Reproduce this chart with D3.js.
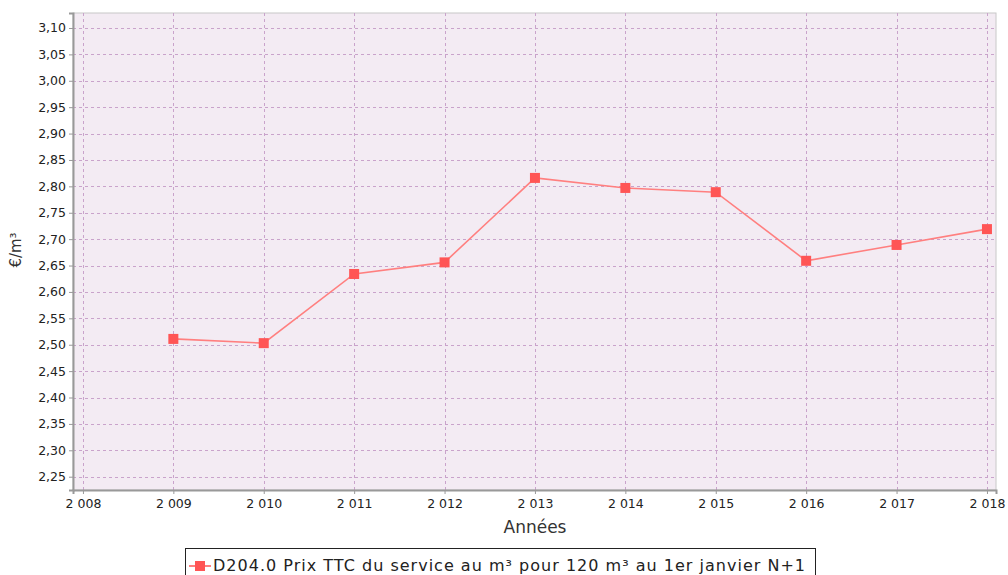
<!DOCTYPE html>
<html><head><meta charset="utf-8">
<script src="https://cdn.jsdelivr.net/npm/d3@7"></script>
<style>body{margin:0;background:#fff}svg{display:block}text{font-family:"DejaVu Sans",sans-serif}</style>
</head><body>
<script>
const years = [2009, 2010, 2011, 2012, 2013, 2014, 2015, 2016, 2017, 2018];
const values = [2.511, 2.503, 2.634, 2.656, 2.816, 2.797, 2.789, 2.659, 2.689, 2.719];
const xTicks = [2008, 2009, 2010, 2011, 2012, 2013, 2014, 2015, 2016, 2017, 2018];
const yTicks = [2.25, 2.30, 2.35, 2.40, 2.45, 2.50, 2.55, 2.60, 2.65, 2.70, 2.75, 2.80, 2.85, 2.90, 2.95, 3.00, 3.05, 3.10];
const seriesName = "D204.0 Prix TTC du service au m³ pour 120 m³ au 1er janvier N+1";

const W = 1008, H = 575;
const L = 73, R = 996, T = 13, B = 490;
const svg = d3.select("body").append("svg").attr("width", W).attr("height", H);

const x = d3.scaleLinear().domain([2007.89, 2018.1]).range([L, R]);
const y = d3.scaleLinear().domain([2.2248, 3.1284]).range([B, T]);

svg.append("rect").attr("x", L).attr("y", T).attr("width", R - L).attr("height", B - T)
  .attr("fill", "#f3ebf3").attr("stroke", "#c8c8c8").attr("stroke-width", 1);

const grid = svg.append("g").attr("stroke", "#c9a3cb").attr("stroke-width", 1).attr("stroke-dasharray", "3,3");
grid.selectAll(".gx").data(xTicks).join("line")
  .attr("x1", d => Math.round(x(d)) + 0.5).attr("x2", d => Math.round(x(d)) + 0.5)
  .attr("y1", T).attr("y2", B);
grid.selectAll(".gy").data(yTicks).join("line")
  .attr("y1", d => Math.round(y(d)) + 0.5).attr("y2", d => Math.round(y(d)) + 0.5)
  .attr("x1", L).attr("x2", R);

const fmtY = d => d3.format(".2f")(d).replace(".", ",");
const fmtX = d => { const s = String(d); return s.slice(0, 1) + " " + s.slice(1); };

const yAxis = svg.append("g").attr("transform", `translate(${L},0)`)
  .call(d3.axisLeft(y).tickValues(yTicks).tickFormat(fmtY).tickSize(4).tickPadding(3));
const xAxis = svg.append("g").attr("transform", `translate(0,${B})`)
  .call(d3.axisBottom(x).tickValues(xTicks).tickFormat(fmtX).tickSize(4).tickPadding(5));
[yAxis, xAxis].forEach(a => {
  a.select(".domain").attr("stroke", "#999").attr("stroke-width", 2);
  a.selectAll(".tick line").attr("stroke", "#999");
  a.selectAll("text").attr("fill", "#222").style("font-size", "12.5px");
});

svg.append("text").attr("x", 535).attr("y", 533).attr("text-anchor", "middle")
  .style("font-size", "17px").attr("fill", "#333").text("Années");
svg.append("text").attr("transform", "translate(21,250) rotate(-90)").attr("text-anchor", "middle")
  .style("font-size", "15px").attr("fill", "#333").text("€/m³");

const data = years.map((d, i) => ({ x: d, y: values[i] }));
svg.append("path").datum(data)
  .attr("fill", "none").attr("stroke", "#ff7f7f").attr("stroke-width", 1.6)
  .attr("d", d3.line().x(d => x(d.x)).y(d => y(d.y)));
svg.selectAll(".pt").data(data).join("rect")
  .attr("x", d => x(d.x) - 5).attr("y", d => y(d.y) - 5)
  .attr("width", 10).attr("height", 10).attr("fill", "#ff5555");

const lg = svg.append("g");
lg.append("rect").attr("x", 185.5).attr("y", 548.5).attr("width", 630).attr("height", 30)
  .attr("fill", "#fff").attr("stroke", "#222").attr("stroke-width", 1);
lg.append("line").attr("x1", 189).attr("x2", 211).attr("y1", 566).attr("y2", 566)
  .attr("stroke", "#ff5555").attr("stroke-width", 1.5);
lg.append("rect").attr("x", 195).attr("y", 561).attr("width", 10).attr("height", 10).attr("fill", "#ff5555");
lg.append("text").attr("x", 213).attr("y", 571).style("font-size", "16px").attr("fill", "#222")
  .attr("textLength", 592).attr("lengthAdjust", "spacing").text(seriesName);
</script>
</body></html>
